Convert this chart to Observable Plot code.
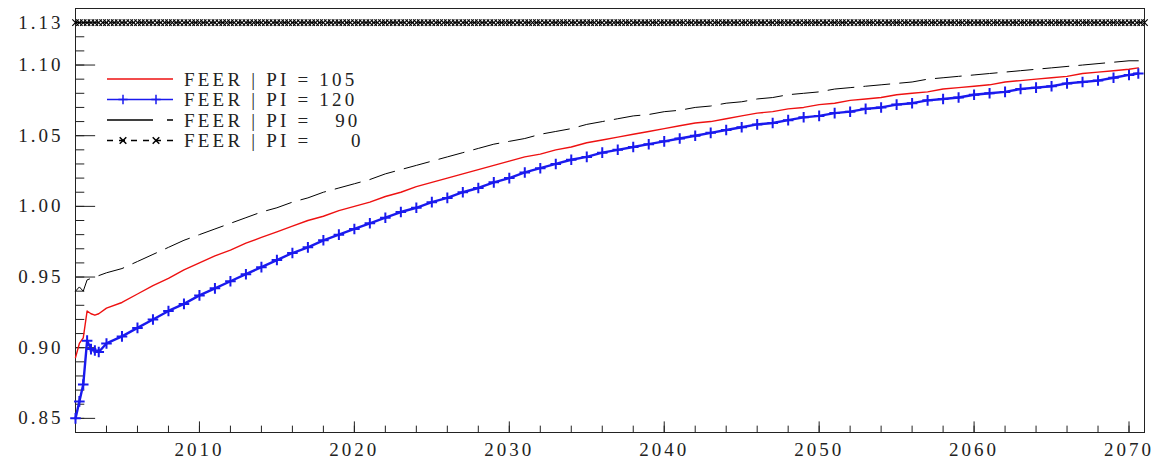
<!DOCTYPE html>
<html>
<head>
<meta charset="utf-8">
<script src="https://cdn.jsdelivr.net/npm/d3@7"></script>
<script src="https://cdn.jsdelivr.net/npm/@observablehq/plot@0.6"></script>
<style>
  body { margin: 0; background: white; }
  #chart svg, #chart svg text { font-family: "Liberation Serif", serif !important; }
  #chart text { letter-spacing: 3px; }
  #chart text.leg { letter-spacing: 3.2px; }
</style>
</head>
<body>
<div id="chart"></div>
<script>
const years = [2002, 2002.25, 2002.5, 2002.75, 2003, 2003.25, 2003.5, 2004,
  2005, 2006, 2007, 2008, 2009, 2010, 2011, 2012, 2013, 2014, 2015, 2016, 2017, 2018, 2019,
  2020, 2021, 2022, 2023, 2024, 2025, 2026, 2027, 2028, 2029, 2030, 2031, 2032, 2033, 2034,
  2035, 2036, 2037, 2038, 2039, 2040, 2041, 2042, 2043, 2044, 2045, 2046, 2047, 2048, 2049,
  2050, 2051, 2052, 2053, 2054, 2055, 2056, 2057, 2058, 2059, 2060, 2061, 2062, 2063, 2064,
  2065, 2066, 2067, 2068, 2069, 2070, 2070.6];

const pi105 = [.893, .903, .907, .926, .924, .923, .924, .928,
  .932, .938, .944, .949, .955, .960, .965, .969, .974, .978, .982, .986, .990, .993, .997,
  1.000, 1.003, 1.007, 1.010, 1.014, 1.017, 1.020, 1.023, 1.026, 1.029, 1.032, 1.035, 1.037, 1.040, 1.042,
  1.045, 1.047, 1.049, 1.051, 1.053, 1.055, 1.057, 1.059, 1.060, 1.062, 1.064, 1.066, 1.067, 1.069, 1.070,
  1.072, 1.073, 1.075, 1.076, 1.077, 1.079, 1.080, 1.081, 1.083, 1.084, 1.085, 1.086, 1.088, 1.089, 1.090,
  1.091, 1.092, 1.094, 1.095, 1.096, 1.097, 1.098];

const pi120 = [.850, .862, .874, .905, .899, .898, .897, .903,
  .908, .914, .920, .926, .931, .937, .942, .947, .952, .957, .962, .967, .971, .976, .980,
  .984, .988, .992, .996, .999, 1.003, 1.006, 1.010, 1.013, 1.017, 1.020, 1.024, 1.027, 1.030, 1.033,
  1.035, 1.038, 1.040, 1.042, 1.044, 1.046, 1.048, 1.050, 1.052, 1.054, 1.056, 1.058, 1.059, 1.061, 1.063,
  1.064, 1.066, 1.067, 1.069, 1.070, 1.072, 1.073, 1.075, 1.076, 1.077, 1.079, 1.080, 1.081, 1.083, 1.084,
  1.085, 1.087, 1.088, 1.089, 1.091, 1.093, 1.094];

const pi90 = [.940, .943, .940, .948, .949, .950, .951, .953,
  .956, .961, .966, .971, .976, .980, .984, .988, .992, .996, .999, 1.003, 1.006, 1.010, 1.013,
  1.016, 1.019, 1.023, 1.026, 1.029, 1.032, 1.035, 1.038, 1.041, 1.044, 1.046, 1.048, 1.051, 1.053, 1.055,
  1.058, 1.060, 1.062, 1.064, 1.065, 1.067, 1.068, 1.070, 1.071, 1.073, 1.074, 1.076, 1.077, 1.079, 1.080,
  1.081, 1.083, 1.084, 1.085, 1.086, 1.087, 1.088, 1.090, 1.091, 1.092, 1.093, 1.094, 1.095, 1.096, 1.097,
  1.098, 1.099, 1.100, 1.101, 1.102, 1.103, 1.103];

const pi0Value = 1.13;

const yLabels = [0.85, 0.90, 0.95, 1.00, 1.05, 1.10, 1.13];
const yMinor = d3.range(85, 114).map(d => d / 100);
const xLabels = [2010, 2020, 2030, 2040, 2050, 2060, 2070];
const xMinor = d3.range(2004, 2071, 2);

const pts = (vals) => years.map((x, i) => ({x, y: vals[i]}));
const pi0pts = d3.range(2002, 2071.01, 0.25).map(x => ({x, y: pi0Value}));

const fontFamily = "'Liberation Serif', serif";

const chart = Plot.plot({
  width: 1161,
  height: 460,
  marginLeft: 75,
  marginRight: 17,
  marginTop: 8,
  marginBottom: 28,
  style: {fontFamily, fontSize: "16px", color: "#222", background: "white"},
  x: {domain: [2002, 2071], axis: null},
  y: {domain: [0.84, 1.14], axis: null},
  marks: [
    Plot.frame({stroke: "#222"}),
    Plot.ruleY(yMinor, {x1: 2002, x2: 2002.6, stroke: "#222"}),
    Plot.ruleY(yLabels, {x1: 2002, x2: 2003.3, stroke: "#222"}),
    Plot.text(yLabels, {x: 2002, y: d => d, text: d => d.toFixed(2), textAnchor: "end", dx: -12, fontSize: 19}),
    Plot.ruleX(xMinor, {y1: 0.84, y2: 0.8445, stroke: "#222"}),
    Plot.ruleX(xLabels, {y1: 0.84, y2: 0.8475, stroke: "#222"}),
    Plot.text(xLabels, {x: d => d, y: 0.84, text: d => String(d), dy: 17, fontSize: 19}),
    Plot.line(pi0pts, {x: "x", y: "y", stroke: "black", strokeWidth: 1, strokeDasharray: "5,4"}),
    Plot.dot(pi0pts, {x: "x", y: "y", symbol: "times", r: 3, stroke: "black", strokeWidth: 1.2}),
    Plot.line(pts(pi90), {x: "x", y: "y", stroke: "black", strokeWidth: 1, strokeDasharray: "26,10"}),
    Plot.line(pts(pi105), {x: "x", y: "y", stroke: "#ee1111", strokeWidth: 1.4}),
    Plot.line(pts(pi120), {x: "x", y: "y", stroke: "#1a1aee", strokeWidth: 2.4}),
    Plot.dot(pts(pi120), {x: "x", y: "y", symbol: "plus", r: 3.5, stroke: "#1a1aee", strokeWidth: 2})
  ]
});

const svg = d3.select(chart);
const legend = [
  {label: "FEER | PI = 105", color: "#ee1111", dash: null, mark: null},
  {label: "FEER | PI = 120", color: "#1a1aee", dash: null, mark: "plus"},
  {label: "FEER | PI =   90", color: "black", dash: "46,14,6,100", mark: null},
  {label: "FEER | PI =     0", color: "black", dash: "6,6", mark: "times"}
];
const lg = svg.append("g").attr("text-anchor", "start");
legend.forEach((d, i) => {
  const y = 79 + i * 20.5;
  lg.append("line").attr("x1", 107).attr("x2", 173).attr("y1", y).attr("y2", y)
    .attr("stroke", d.color).attr("stroke-width", 1.4).attr("stroke-dasharray", d.dash);
  if (d.mark) {
    [123, 156].forEach(mx => {
      const sym = d.mark === "plus" ? d3.symbolPlus : d3.symbolTimes;
      lg.append("path").attr("d", d3.symbol(sym, 30)())
        .attr("transform", `translate(${mx},${y})`)
        .attr("fill", "none").attr("stroke", d.color).attr("stroke-width", 1.5);
    });
  }
  lg.append("text").attr("class", "leg").attr("x", 184).attr("y", y).attr("dy", "0.35em")
    .attr("text-anchor", "start")
    .style("font-size", "19px")
    .style("white-space", "pre")
    .attr("fill", "#222").text(d.label);
});

document.getElementById("chart").append(chart);
</script>
</body>
</html>
